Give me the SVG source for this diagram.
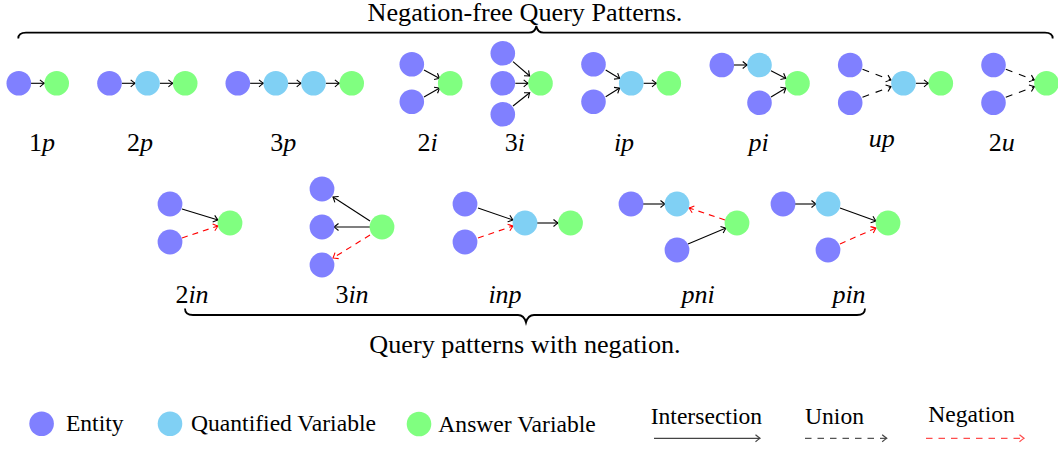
<svg xmlns="http://www.w3.org/2000/svg" width="1058" height="449" viewBox="0 0 1058 449">
<defs>
<style>
.e{fill:#8080FF}
.q{fill:#80D0F4}
.a{fill:#80FF80}
text{font-family:'Liberation Serif','Times New Roman','DejaVu Serif',serif;fill:#000}
.it{font-style:italic}
.lab{font-size:26px;text-anchor:middle}
.cap{font-size:26.2px;text-anchor:middle}
.leg{font-size:23.6px}
.s{stroke:#000;stroke-width:1.1;fill:none;marker-end:url(#hb)}
.u{stroke:#000;stroke-width:1.1;fill:none;stroke-dasharray:7 7;marker-end:url(#hb)}
.n{stroke:#FF0000;stroke-width:1.1;fill:none;stroke-dasharray:6 5;marker-end:url(#hr)}
.brace{stroke:#000;stroke-width:1.8;fill:none}
</style>
<marker id="hb" viewBox="-6 -5 8 10" markerWidth="8" markerHeight="10" refX="0" refY="0" orient="auto" markerUnits="userSpaceOnUse">
<path d="M-4.5,-3.5 Q-1.5,-1 0,0 Q-1.5,1 -4.5,3.5" stroke="#000" stroke-width="1.1" fill="none"/>
</marker>
<marker id="hr" viewBox="-6 -5 8 10" markerWidth="8" markerHeight="10" refX="0" refY="0" orient="auto" markerUnits="userSpaceOnUse">
<path d="M-4.5,-3.5 Q-1.5,-1 0,0 Q-1.5,1 -4.5,3.5" stroke="#FF0000" stroke-width="1.1" fill="none"/>
</marker>
<marker id="hg" viewBox="-6 -5 8 10" markerWidth="8" markerHeight="10" refX="0" refY="0" orient="auto" markerUnits="userSpaceOnUse">
<path d="M-4.5,-3.5 Q-1.5,-1 0,0 Q-1.5,1 -4.5,3.5" stroke="#444" stroke-width="1.2" fill="none"/>
</marker>
<marker id="hl" viewBox="-6 -5 8 10" markerWidth="8" markerHeight="10" refX="0" refY="0" orient="auto" markerUnits="userSpaceOnUse">
<path d="M-4.5,-3.5 Q-1.5,-1 0,0 Q-1.5,1 -4.5,3.5" stroke="#FF4D4D" stroke-width="1.2" fill="none"/>
</marker>
</defs>
<rect width="1058" height="449" fill="#fff"/>

<g font-family="Liberation Serif, Times New Roman, DejaVu Serif, serif">
<!-- titles and braces -->
<text class="cap" x="525" y="21">Negation-free Query Patterns.</text>
<path class="brace" d="M18.3,38.5 Q18.3,32.7 26,32.7 L529,32.7 Q535,32.7 536.3,26 Q537.6,32.7 543.5,32.7 L1045,32.7 Q1052.7,32.7 1052.7,38.5"/>
<text class="cap" x="525" y="353">Query patterns with negation.</text>
<path class="brace" d="M185,308.5 Q185,315 193,315 L518,315 Q524,315 526,322.5 Q528,315 534,315 L857,315 Q865,315 865,308.5"/>

<!-- connectors -->
<g id="connectors">
<line class="s" x1="31" y1="83.3" x2="44.4" y2="83.3"/>
<line class="s" x1="121.8" y1="83.3" x2="135.2" y2="83.3"/>
<line class="s" x1="159.8" y1="83.3" x2="172.9" y2="83.3"/>
<line class="s" x1="250.1" y1="83.3" x2="263.5" y2="83.3"/>
<line class="s" x1="288.1" y1="83.3" x2="301.2" y2="83.3"/>
<line class="s" x1="325.8" y1="83.3" x2="339.4" y2="83.3"/>
<line class="s" x1="424" y1="70" x2="439.7" y2="78.5"/>
<line class="s" x1="424" y1="97" x2="439.7" y2="88"/>
<line class="s" x1="513" y1="61.7" x2="529.7" y2="76"/>
<line class="s" x1="515.3" y1="83.3" x2="528.2" y2="83.3"/>
<line class="s" x1="513" y1="106" x2="529.7" y2="92.7"/>
<line class="s" x1="605.7" y1="70" x2="619.7" y2="78.5"/>
<line class="s" x1="605.7" y1="96.7" x2="619.7" y2="88"/>
<line class="s" x1="643.5" y1="83.3" x2="656.5" y2="83.3"/>
<line class="s" x1="734" y1="65" x2="747.2" y2="65"/>
<line class="s" x1="771" y1="70.7" x2="786" y2="78.5"/>
<line class="s" x1="771" y1="97" x2="786" y2="88"/>
<line class="u" x1="862.5" y1="69.3" x2="891" y2="80"/>
<line class="u" x1="862.5" y1="97.3" x2="891" y2="86.6"/>
<line class="s" x1="915.8" y1="83.3" x2="928.5" y2="83.3"/>
<line class="u" x1="1005.8" y1="69.3" x2="1034.4" y2="80"/>
<line class="u" x1="1005.8" y1="97.3" x2="1034.4" y2="86.6"/>
<line class="s" x1="182" y1="209" x2="218" y2="220"/>
<line class="n" x1="182" y1="238" x2="218" y2="226"/>
<line class="s" x1="370" y1="221" x2="333" y2="197"/>
<line class="s" x1="370" y1="227" x2="334" y2="227"/>
<line class="n" x1="370" y1="235" x2="333" y2="258"/>
<line class="s" x1="478" y1="208" x2="513" y2="220"/>
<line class="n" x1="478" y1="238" x2="513" y2="226"/>
<line class="s" x1="537" y1="223" x2="558" y2="223"/>
<line class="s" x1="643" y1="204" x2="665" y2="204"/>
<line class="n" x1="725" y1="220" x2="689" y2="208"/>
<line class="s" x1="688" y1="244" x2="726" y2="228"/>
<line class="s" x1="795" y1="204" x2="816" y2="204"/>
<line class="s" x1="840" y1="208" x2="876" y2="221"/>
<line class="n" x1="840" y1="244" x2="876" y2="228"/>
</g>

<!-- nodes -->
<g id="p1"><circle class="e" cx="18.8" cy="83.3" r="12.3"/><circle class="a" cx="56.7" cy="83.3" r="12.3"/>
<text class="lab" x="42" y="150.5">1<tspan class="it">p</tspan></text></g>
<g id="p2"><circle class="e" cx="109.5" cy="83.3" r="12.3"/><circle class="q" cx="147.5" cy="83.3" r="12.3"/><circle class="a" cx="185.2" cy="83.3" r="12.3"/>
<text class="lab" x="140" y="150.5">2<tspan class="it">p</tspan></text></g>
<g id="p3"><circle class="e" cx="237.8" cy="83.3" r="12.3"/><circle class="q" cx="275.8" cy="83.3" r="12.3"/><circle class="q" cx="313.5" cy="83.3" r="12.3"/><circle class="a" cx="351.7" cy="83.3" r="12.3"/>
<text class="lab" x="283.3" y="150.5">3<tspan class="it">p</tspan></text></g>
<g id="i2"><circle class="e" cx="411.8" cy="64.2" r="12.3"/><circle class="e" cx="411.8" cy="101.8" r="12.3"/><circle class="a" cx="450.2" cy="83.3" r="12.3"/>
<text class="lab" x="427.7" y="150.5">2<tspan class="it">i</tspan></text></g>
<g id="i3"><circle class="e" cx="502.8" cy="53.2" r="12.3"/><circle class="e" cx="502.8" cy="83.3" r="12.3"/><circle class="e" cx="502.8" cy="114.2" r="12.3"/><circle class="a" cx="540.5" cy="83.3" r="12.3"/>
<text class="lab" x="514.8" y="150.5">3<tspan class="it">i</tspan></text></g>
<g id="ip"><circle class="e" cx="593.5" cy="64.2" r="12.3"/><circle class="e" cx="593.5" cy="101.8" r="12.3"/><circle class="q" cx="631.2" cy="83.3" r="12.3"/><circle class="a" cx="668.8" cy="83.3" r="12.3"/>
<text class="lab it" x="624" y="150.5">ip</text></g>
<g id="pi"><circle class="e" cx="721.8" cy="65" r="12.3"/><circle class="q" cx="759.5" cy="65" r="12.3"/><circle class="e" cx="759.5" cy="102.7" r="12.3"/><circle class="a" cx="797.5" cy="83.3" r="12.3"/>
<text class="lab it" x="758.5" y="150.5">pi</text></g>
<g id="up"><circle class="e" cx="850.2" cy="65" r="12.3"/><circle class="e" cx="850.2" cy="102.7" r="12.3"/><circle class="q" cx="903.5" cy="83.3" r="12.3"/><circle class="a" cx="940.8" cy="83.3" r="12.3"/>
<text class="lab it" x="881.8" y="146.5">up</text></g>
<g id="u2"><circle class="e" cx="993.5" cy="65" r="12.3"/><circle class="e" cx="993.5" cy="102.7" r="12.3"/><circle class="a" cx="1046.5" cy="83.3" r="12.3"/>
<text class="lab" x="1001.8" y="151">2<tspan class="it">u</tspan></text></g>

<g id="in2"><circle class="e" cx="170" cy="204" r="12.4"/><circle class="e" cx="170" cy="242" r="12.4"/><circle class="a" cx="230" cy="223" r="12.4"/>
<text class="lab" x="192" y="303">2<tspan class="it">in</tspan></text></g>
<g id="in3"><circle class="e" cx="322" cy="189" r="12.4"/><circle class="e" cx="322" cy="227" r="12.4"/><circle class="e" cx="322" cy="265" r="12.4"/><circle class="a" cx="382" cy="227" r="12.4"/>
<text class="lab" x="352" y="303">3<tspan class="it">in</tspan></text></g>
<g id="inp"><circle class="e" cx="465" cy="204" r="12.4"/><circle class="e" cx="465" cy="242" r="12.4"/><circle class="q" cx="525" cy="223" r="12.4"/><circle class="a" cx="570.5" cy="223" r="12.4"/>
<text class="lab it" x="505" y="303">inp</text></g>
<g id="pni"><circle class="e" cx="631" cy="204" r="12.4"/><circle class="q" cx="677" cy="204" r="12.4"/><circle class="e" cx="677" cy="250" r="12.4"/><circle class="a" cx="737" cy="223" r="12.4"/>
<text class="lab it" x="698" y="303">pni</text></g>
<g id="pin"><circle class="e" cx="783" cy="204" r="12.4"/><circle class="q" cx="828" cy="204" r="12.4"/><circle class="e" cx="828" cy="250" r="12.4"/><circle class="a" cx="888" cy="223" r="12.4"/>
<text class="lab it" x="849" y="303">pin</text></g>

<!-- legend -->
<g id="legend">
<circle class="e" cx="41.6" cy="423.8" r="12.3"/>
<text class="leg" x="65.9" y="430.8">Entity</text>
<circle class="q" cx="170" cy="423.8" r="12.3"/>
<text class="leg" x="191" y="430.8">Quantified Variable</text>
<circle class="a" cx="419" cy="424" r="12.3"/>
<text class="leg" x="438.3" y="431.7">Answer Variable</text>
<text class="leg" x="650.7" y="424.3">Intersection</text>
<line x1="654" y1="438.3" x2="760" y2="438.3" stroke="#444" stroke-width="1.2" marker-end="url(#hg)"/>
<text class="leg" x="805" y="424.3">Union</text>
<line x1="805" y1="438.3" x2="886.7" y2="438.3" stroke="#555" stroke-width="1.2" stroke-dasharray="6.5 6" marker-end="url(#hg)"/>
<text class="leg" x="928.3" y="421.7">Negation</text>
<line x1="926" y1="438.3" x2="1024" y2="438.3" stroke="#FF4D4D" stroke-width="1.2" stroke-dasharray="6.5 6" marker-end="url(#hl)"/>
</g>
</g>
</svg>
